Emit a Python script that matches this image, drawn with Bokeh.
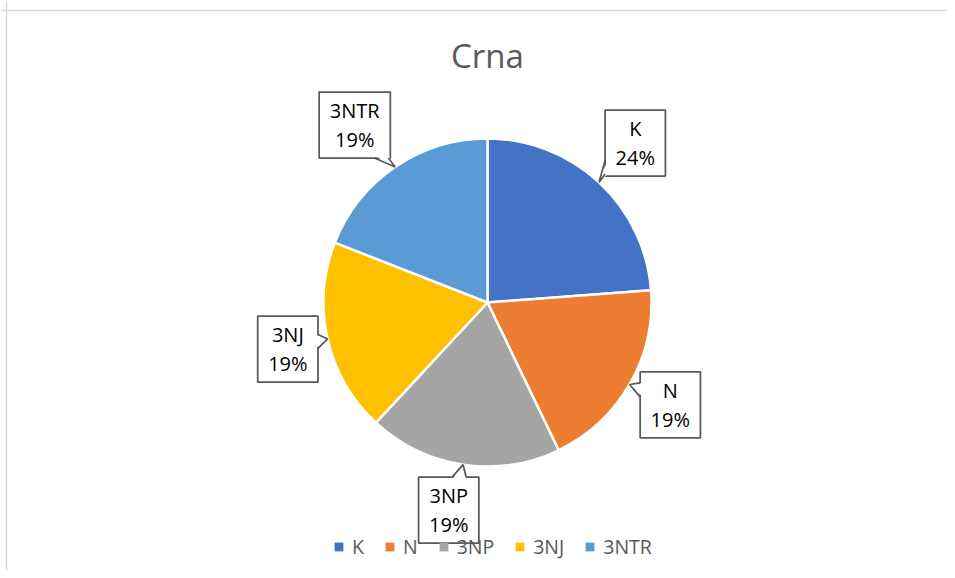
import math
import numpy as np
from bokeh.plotting import figure
from bokeh.models import ColumnDataSource, Label, Legend, LegendItem, Range1d, Span
from bokeh.embed import file_html
from bokeh.resources import INLINE
from bokeh.core.properties import value

# ---- data ----
title_text = "Crna"
categories = ["K", "N", "3NP", "3NJ", "3NTR"]
values = [5, 4, 4, 4, 4]
colors = ["#4472C4", "#ED7D31", "#A5A5A5", "#FFC000", "#5B9BD5"]

# ---- layout ----
W, H = 947, 570
S = 164.0           # pixels per data unit (pie radius = 1)
CX, CY = 487, 302   # pie centre in canvas pixels
FONT = "Open Sans"
LABEL_PX = 20
BOX_H = 66
R_LAB = 1.28
# per-label nudges of the callout boxes in screen pixels (dx right, dy down)
NUDGE = [(5, -5.5), (1, -2.5), (-7.5, 0), (5, 0), (-14.5, -4)]

total = float(sum(values))
fracs = [v / total for v in values]
cum = np.concatenate([[0.0], np.cumsum(fracs)])
starts = [math.pi / 2 - 2 * math.pi * c for c in cum[:-1]]
ends = [math.pi / 2 - 2 * math.pi * c for c in cum[1:]]
mids = [math.pi / 2 - 2 * math.pi * (cum[i] + fracs[i] / 2) for i in range(len(values))]
pcts = [f"{round(100 * f)}%" for f in fracs]

# rough Open Sans advance widths (em)
CW = {"0": .572, "1": .572, "2": .572, "3": .572, "4": .572, "5": .572, "6": .572,
      "7": .572, "8": .572, "9": .572, "%": .819, "K": .627, "N": .753, "T": .556,
      "R": .628, "P": .603, "J": .274}
def tw(s):
    return sum(CW.get(ch, .6) for ch in s) * LABEL_PX

p = figure(width=W, height=H, output_backend="svg", toolbar_location=None,
           x_range=Range1d(-CX / S, (W - CX) / S), y_range=Range1d(-(H - CY) / S, CY / S),
           x_axis_location=None, y_axis_location=None, min_border=0)
p.grid.visible = False
p.outline_line_color = None
p.background_fill_color = "white"
p.border_fill_color = "white"

# chart-area border (left and top edges only are inside the window)
p.add_layout(Span(location=6, dimension="height", location_units="canvas",
                  line_color="#D9D9D9", line_width=1.5))
p.add_layout(Span(location=10, dimension="width", location_units="canvas",
                  line_color="#D9D9D9", line_width=1.5))

src = ColumnDataSource(dict(cat=categories, val=values, start=starts, end=ends, color=colors))
p.wedge(x=0, y=0, radius=1.0, start_angle="start", end_angle="end", direction="clock",
        fill_color="color", line_color="white", line_width=2.5, source=src)

# ---- callout boxes ----
lx, ly, bw = [], [], []
tri_xs, tri_ys, ln_xs, ln_ys = [], [], [], []
for i, m in enumerate(mids):
    cx = R_LAB * math.cos(m) + NUDGE[i][0] / S
    cy = R_LAB * math.sin(m) - NUDGE[i][1] / S
    w_px = max(tw(categories[i]), tw(pcts[i])) + 21
    hw, hh = w_px / 2 / S, BOX_H / 2 / S
    tx, ty = math.cos(m), math.sin(m)
    dx, dy = tx - cx, ty - cy
    half = 7 / S
    inset = 2.5 / S
    if abs(dx) * hh > abs(dy) * hw:
        sx = 1 if dx > 0 else -1
        xe = cx + sx * hw
        ye = cy + dy * (hw / abs(dx))
        ye = min(max(ye, cy - hh + half + 2 / S), cy + hh - half - 2 / S)
        b1, b2 = (xe, ye - half), (xe, ye + half)
        i1, i2 = (xe - sx * inset, ye - half), (xe - sx * inset, ye + half)
    else:
        sy = 1 if dy > 0 else -1
        ye = cy + sy * hh
        xe = cx + dx * (hh / abs(dy))
        xe = min(max(xe, cx - hw + half + 2 / S), cx + hw - half - 2 / S)
        b1, b2 = (xe - half, ye), (xe + half, ye)
        i1, i2 = (xe - half, ye - sy * inset), (xe + half, ye - sy * inset)
    lx.append(cx); ly.append(cy); bw.append(w_px)
    tri_xs.append([tx, i1[0], i2[0]]); tri_ys.append([ty, i1[1], i2[1]])
    ln_xs.append([b1[0], tx, b2[0]]); ln_ys.append([b1[1], ty, b2[1]])

lab = ColumnDataSource(dict(x=lx, y=ly, w=bw, cat=categories, pct=pcts))
p.rect(x="x", y="y", width="w", height=BOX_H, width_units="screen", height_units="screen",
       fill_color="white", line_color="#595959", line_width=1.75, source=lab)
p.patches(xs=tri_xs, ys=tri_ys, fill_color="white", line_color=None)
p.multi_line(xs=ln_xs, ys=ln_ys, line_color="#595959", line_width=1.75)
p.text(x="x", y="y", text="cat", y_offset=-14.5, text_align="center", text_baseline="middle",
       text_font=value(FONT), text_font_size=f"{LABEL_PX}px", text_color="black", source=lab)
p.text(x="x", y="y", text="pct", y_offset=14.5, text_align="center", text_baseline="middle",
       text_font=value(FONT), text_font_size=f"{LABEL_PX}px", text_color="black", source=lab)

# ---- title ----
p.add_layout(Label(x=0, y=(CY - 55) / S, text=title_text, text_align="center",
                   text_baseline="middle", text_font=FONT, text_font_size="33px",
                   text_color="#595959"))

# ---- legend ----
items = []
for cat, c in zip(categories, colors):
    r = p.rect(x=[np.nan], y=[np.nan], width=1, height=1, fill_color=c, line_color=None)
    items.append(LegendItem(label=cat, renderers=[r]))
legend = Legend(items=items, orientation="horizontal", location=(333, 10),
                glyph_width=11, glyph_height=11, label_standoff=8, spacing=20,
                label_width=0, padding=0, margin=0, border_line_color=None,
                background_fill_alpha=0, label_text_font=FONT,
                label_text_font_size="19.5px", label_text_color="#595959")
p.add_layout(legend)

open("out.html", "w").write(file_html(p, INLINE))
